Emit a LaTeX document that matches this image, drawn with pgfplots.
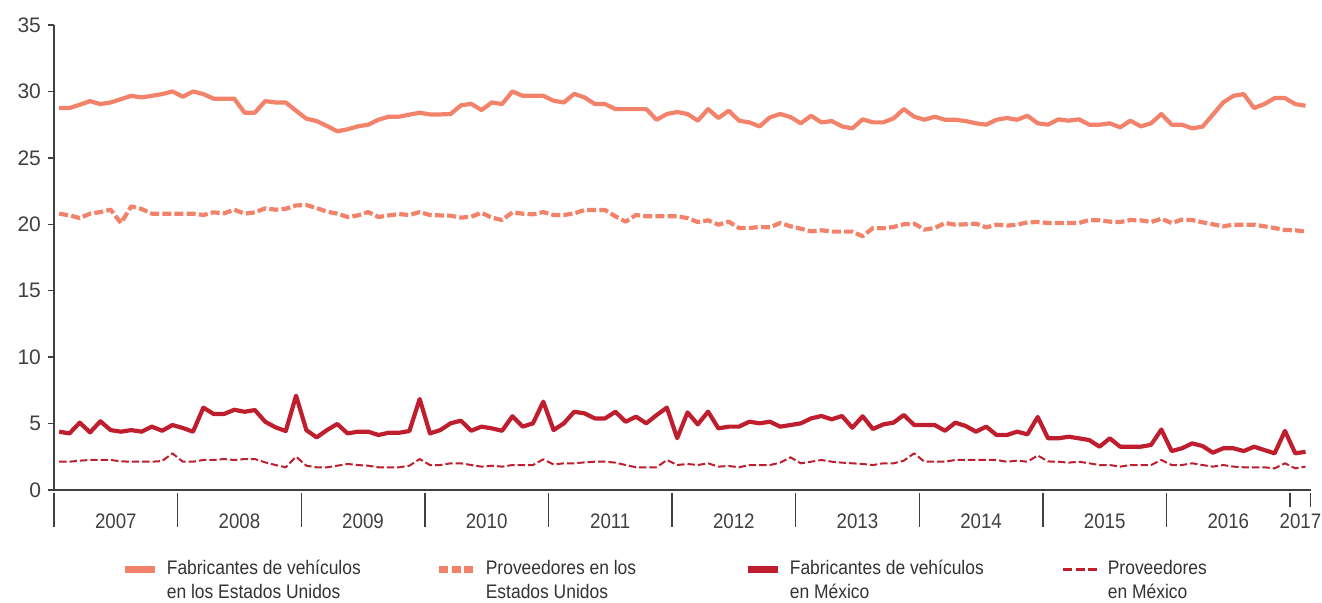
\documentclass[border=0pt]{standalone}
\usepackage{fontspec}
\setmainfont{Liberation Sans}[FakeStretch=0.89]
\newfontfamily\widefont{Liberation Sans}
\usepackage{pgfplots}
\pgfplotsset{compat=1.18}
\usepackage{pgfplotstable}
\definecolor{salmon}{HTML}{F2826A}
\definecolor{dred}{HTML}{BE1E2D}
\definecolor{axc}{HTML}{404040}
\definecolor{txc}{HTML}{333333}

\pgfplotstableread{
x a b c d
0.5 28.75 20.80 4.39 2.13
1.5 28.75 20.67 4.26 2.13
2.5 29.00 20.47 5.07 2.21
3.5 29.27 20.80 4.34 2.26
4.5 29.05 20.92 5.17 2.26
5.5 29.17 21.10 4.51 2.26
6.5 29.42 20.10 4.39 2.16
7.5 29.67 21.35 4.51 2.13
8.5 29.55 21.15 4.39 2.13
9.5 29.67 20.80 4.77 2.13
10.5 29.80 20.80 4.46 2.18
11.5 30.00 20.80 4.89 2.76
12.5 29.60 20.80 4.67 2.13
13.5 30.00 20.80 4.39 2.13
14.5 29.80 20.70 6.20 2.26
15.5 29.45 20.90 5.72 2.26
16.5 29.45 20.82 5.72 2.33
17.5 29.45 21.10 6.04 2.26
18.5 28.40 20.80 5.89 2.33
19.5 28.40 20.90 6.02 2.33
20.5 29.27 21.20 5.14 2.08
21.5 29.17 21.10 4.72 1.88
22.5 29.17 21.17 4.44 1.71
23.5 28.55 21.42 7.10 2.51
24.5 27.95 21.45 4.51 1.83
25.5 27.77 21.22 3.96 1.71
26.5 27.40 20.95 4.51 1.71
27.5 27.00 20.80 4.97 1.83
28.5 27.15 20.55 4.26 1.96
29.5 27.37 20.67 4.39 1.88
30.5 27.50 20.92 4.39 1.83
31.5 27.87 20.55 4.14 1.71
32.5 28.10 20.67 4.31 1.71
33.5 28.10 20.77 4.31 1.71
34.5 28.25 20.70 4.44 1.83
35.5 28.40 20.92 6.85 2.33
36.5 28.27 20.70 4.26 1.88
37.5 28.27 20.67 4.51 1.88
38.5 28.30 20.65 5.02 2.01
39.5 28.95 20.50 5.22 2.01
40.5 29.07 20.57 4.46 1.88
41.5 28.60 20.87 4.77 1.76
42.5 29.17 20.50 4.64 1.83
43.5 29.05 20.32 4.46 1.76
44.5 30.00 20.90 5.55 1.88
45.5 29.67 20.80 4.77 1.88
46.5 29.67 20.75 5.02 1.88
47.5 29.67 20.92 6.65 2.31
48.5 29.30 20.70 4.51 1.92
49.5 29.17 20.70 5.02 2.01
50.5 29.82 20.82 5.89 2.01
51.5 29.55 21.07 5.77 2.08
52.5 29.05 21.07 5.39 2.13
53.5 29.05 21.07 5.39 2.13
54.5 28.67 20.60 5.89 2.06
55.5 28.67 20.20 5.14 1.88
56.5 28.67 20.70 5.52 1.71
57.5 28.67 20.60 5.02 1.71
58.5 27.87 20.60 5.64 1.71
59.5 28.30 20.60 6.20 2.26
60.5 28.45 20.60 3.90 1.88
61.5 28.30 20.47 5.84 1.96
62.5 27.80 20.17 4.94 1.88
63.5 28.67 20.30 5.90 2.01
64.5 28.00 19.97 4.64 1.76
65.5 28.55 20.20 4.77 1.81
66.5 27.80 19.72 4.77 1.71
67.5 27.67 19.72 5.14 1.88
68.5 27.37 19.80 5.02 1.88
69.5 28.05 19.77 5.14 1.88
70.5 28.30 20.10 4.77 2.06
71.5 28.07 19.85 4.89 2.46
72.5 27.60 19.67 5.02 2.01
73.5 28.17 19.47 5.39 2.13
74.5 27.67 19.55 5.57 2.26
75.5 27.77 19.45 5.32 2.13
76.5 27.37 19.45 5.57 2.06
77.5 27.22 19.45 4.69 2.01
78.5 27.90 19.10 5.55 1.96
79.5 27.67 19.72 4.59 1.88
80.5 27.67 19.70 4.94 2.01
81.5 27.97 19.80 5.07 2.01
82.5 28.67 20.00 5.65 2.21
83.5 28.10 20.05 4.89 2.76
84.5 27.87 19.60 4.89 2.13
85.5 28.10 19.72 4.89 2.13
86.5 27.87 20.10 4.46 2.13
87.5 27.87 19.97 5.07 2.26
88.5 27.77 20.00 4.82 2.26
89.5 27.60 20.05 4.39 2.26
90.5 27.50 19.77 4.77 2.26
91.5 27.87 19.97 4.14 2.26
92.5 28.00 19.90 4.14 2.13
93.5 27.87 19.97 4.39 2.21
94.5 28.17 20.15 4.19 2.13
95.5 27.60 20.17 5.50 2.60
96.5 27.50 20.10 3.89 2.15
97.5 27.90 20.10 3.89 2.13
98.5 27.80 20.10 4.01 2.06
99.5 27.90 20.10 3.89 2.13
100.5 27.50 20.32 3.76 2.01
101.5 27.50 20.30 3.26 1.88
102.5 27.60 20.20 3.89 1.88
103.5 27.30 20.17 3.26 1.76
104.5 27.80 20.32 3.26 1.88
105.5 27.37 20.30 3.26 1.88
106.5 27.60 20.17 3.39 1.88
107.5 28.30 20.42 4.55 2.26
108.5 27.50 20.10 2.93 1.88
109.5 27.50 20.35 3.14 1.88
110.5 27.22 20.32 3.51 2.01
111.5 27.35 20.15 3.31 1.88
112.5 28.25 20.00 2.81 1.76
113.5 29.17 19.85 3.14 1.88
114.5 29.67 19.97 3.14 1.76
115.5 29.80 19.97 2.93 1.71
116.5 28.75 19.97 3.26 1.71
117.5 29.05 19.85 3.01 1.71
118.5 29.50 19.72 2.76 1.63
119.5 29.50 19.57 4.45 2.01
120.5 29.05 19.55 2.76 1.63
121.5 28.92 19.45 2.88 1.76
}\data

\begin{document}
\begin{tikzpicture}
\useasboundingbox (-27pt,-56pt) rectangle (634pt,245pt);
\begin{axis}[
  at={(0,0)}, anchor=south west,
  scale only axis, width=628.35pt, height=232.5pt,
  xmin=0, xmax=122, ymin=0, ymax=35,
  axis lines=left, axis line style={-, axc, line width=0.7pt},
  clip=false,
  /pgf/number format/assume math mode=true,
  ytick={0,5,...,35},
  tick align=outside, major tick length=3pt,
  ytick style={axc, line width=0.7pt},
  yticklabel style={font=\widefont\fontsize{10.5}{12}\selectfont, text=axc},
  xtick={6,18,30,42,54,66,78,90,102,114,121},
  xticklabels={2007,2008,2009,2010,2011,2012,2013,2014,2015,2016,2017},
  xtick style={draw=none},
  xticklabel style={font=\fontsize{10.5}{12}\selectfont, text=axc, anchor=base, yshift=-16pt},
  legend columns=4,
  legend cell align=left,
  legend style={at={(0.054,-0.1515)}, anchor=north west, draw=none, fill=none,
    inner sep=0pt, outer sep=0pt, row sep=0pt, column sep=0pt,
    /tikz/every odd column/.style={column sep=4pt},
    nodes={inner sep=0pt, text=txc, font=\fontsize{9.8}{11.8}\selectfont}},
]
\addplot[salmon, line width=2.1pt, line join=round,
  legend image code/.code={\draw[salmon, line width=3.5pt] (0pt,0pt) -- (15pt,0pt);}]
  table[x=x,y=a]{\data};
\addlegendentry{\parbox[t]{134.5pt}{Fabricantes de vehículos\\en los Estados Unidos}}
\addplot[salmon, line width=2.1pt, line join=round, dash pattern=on 4.5pt off 1.6pt,
  legend image code/.code={\draw[salmon, line width=3.5pt, dash pattern=on 4.5pt off 1.6pt] (0pt,0pt) -- (17.5pt,0pt);}]
  table[x=x,y=b]{\data};
\addlegendentry{\parbox[t]{129.5pt}{Proveedores en los\\Estados Unidos}}
\addplot[dred, line width=2.1pt, line join=round,
  legend image code/.code={\draw[dred, line width=3.5pt] (0pt,0pt) -- (15pt,0pt);}]
  table[x=x,y=c]{\data};
\addlegendentry{\parbox[t]{136pt}{Fabricantes de vehículos\\en México}}
\addplot[dred, line width=1pt, line join=round, dash pattern=on 3.7pt off 1.5pt,
  legend image code/.code={\draw[dred, line width=1.5pt, dash pattern=on 4.5pt off 1.6pt] (0pt,0pt) -- (17.5pt,0pt);}]
  table[x=x,y=d]{\data};
\addlegendentry{\parbox[t]{100pt}{Proveedores\\en México}}
\pgfplotsinvokeforeach{0,12,24,36,48,60,72,84,96,108}{
  \draw[axc, line width=0.7pt] (axis cs:#1,0) ++(0,-1.5pt) -- ++(0,-17pt);
}
\pgfplotsinvokeforeach{120,122}{
  \draw[axc, line width=0.7pt] (axis cs:#1,0) ++(0,-1.5pt) -- ++(0,-7pt);
}
\end{axis}
\end{tikzpicture}
\end{document}
